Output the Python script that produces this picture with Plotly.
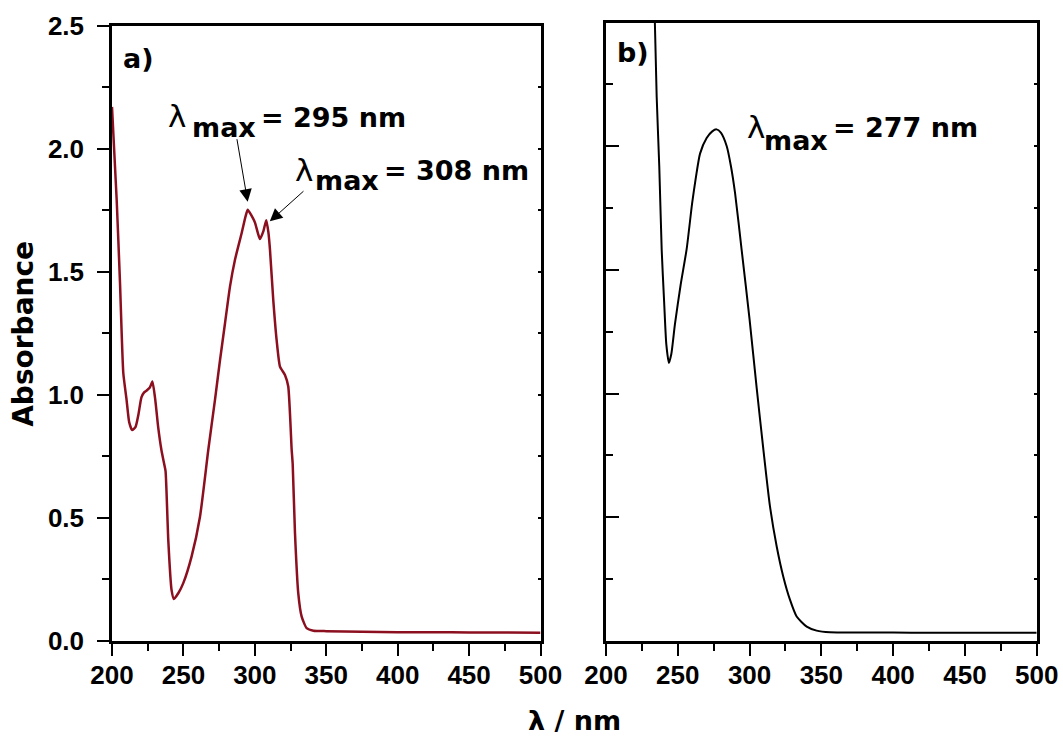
import plotly.graph_objects as go

# UV-Vis absorption spectra
wavelength_a = [200, 203.3, 205.6, 207.9, 210.2, 212, 214.1, 216.5, 218.5, 220.6, 222.5, 224.1,
                226.5, 228.3, 230.3, 232.3, 234.6, 236.5, 237.5, 239.4, 241.7, 243.3, 246.5,
                249.9, 255.7, 261.6, 267.4, 272.1, 275.6, 279.1, 282.6, 286.1, 290.8, 293.5,
                295, 297.5, 300.1, 302, 303.6, 306, 308, 309.5, 310.6, 312.9, 315.3, 317.6,
                321.1, 323.4, 325.8, 326.5, 328.1, 330.4, 332.8, 336.3, 341, 350, 375, 400,
                425, 450, 475, 500]
absorbance_a = [2.17, 1.79, 1.455, 1.09, 0.98, 0.89, 0.857, 0.87, 0.92, 0.99, 1.01, 1.017,
                1.03, 1.054, 0.98, 0.87, 0.776, 0.72, 0.69, 0.41, 0.207, 0.171, 0.195,
                0.235, 0.343, 0.505, 0.776, 0.98, 1.14, 1.29, 1.44, 1.549, 1.658, 1.725,
                1.752, 1.73, 1.70, 1.66, 1.633, 1.665, 1.71, 1.66, 1.59, 1.386, 1.22, 1.115,
                1.081, 1.034, 0.776, 0.72, 0.44, 0.195, 0.099, 0.052, 0.042, 0.040, 0.038, 0.036,
                0.036, 0.035, 0.035, 0.034]

wavelength_b = [225, 230, 233, 235.3, 237.1, 238.8, 240.5, 242, 243.8, 245.5, 248, 252, 256.2,
                260, 262.5, 265.5, 270.1, 274, 277, 280, 284.1, 287, 289.9, 294.5, 300, 305,
                309.6, 314.2, 318.9, 323.5, 328.2, 332.8, 339.8, 346.7, 356, 375, 400, 425,
                450, 475, 500]
absorbance_b = [3.6, 3.3, 2.75, 2.2, 1.92, 1.58, 1.37, 1.2, 1.124, 1.16, 1.28, 1.44, 1.585,
                1.77, 1.87, 1.97, 2.033, 2.06, 2.068, 2.055, 2.0, 1.92, 1.81, 1.58, 1.30, 1.02,
                0.775, 0.545, 0.382, 0.26, 0.166, 0.099, 0.058, 0.042, 0.035, 0.034, 0.034, 0.033,
                0.033, 0.033, 0.033]

x_ticks = [200, 250, 300, 350, 400, 450, 500]
y_ticks = [0.0, 0.5, 1.0, 1.5, 2.0, 2.5]

TICK_FONT = dict(family="Liberation Sans, Arial", size=26, color="black", weight="bold")
LABEL_FONT = dict(family="DejaVu Sans", size=27, color="black", weight="bold")
LAMBDA_FONT = dict(family="DejaVu Sans", size=31, color="black")

fig = go.Figure()
fig.add_trace(go.Scatter(x=wavelength_a, y=absorbance_a, mode="lines",
                         line=dict(color="#8b0f1f", width=2.5, shape="spline", smoothing=0.5),
                         xaxis="x", yaxis="y", showlegend=False))
fig.add_trace(go.Scatter(x=wavelength_b, y=absorbance_b, mode="lines",
                         line=dict(color="black", width=2, shape="spline", smoothing=0.6),
                         xaxis="x2", yaxis="y2", showlegend=False))
# empty traces that carry the right-hand tick axes
fig.add_trace(go.Scatter(x=[], y=[], xaxis="x", yaxis="y3", showlegend=False))
fig.add_trace(go.Scatter(x=[], y=[], xaxis="x2", yaxis="y4", showlegend=False))

x_common = dict(range=[200, 500], tickvals=x_ticks, ticks="outside", ticklen=12, tickwidth=2,
                tickcolor="black", showline=True, linewidth=2.5, linecolor="black", mirror=True,
                showgrid=False, zeroline=False, tickfont=TICK_FONT, ticklabelstandoff=-3,
                automargin=False,
                minor=dict(dtick=25, tick0=200, ticks="outside", ticklen=7, tickwidth=2,
                           tickcolor="black", showgrid=False))
ax_dom = 1 - 641 / 738

fig.update_layout(
    width=1063, height=738,
    margin=dict(l=0, r=0, t=0, b=0),
    paper_bgcolor="white", plot_bgcolor="white",
    xaxis=dict(domain=[112 / 1063, 540.5 / 1063], anchor="y", **x_common),
    xaxis2=dict(domain=[606 / 1063, 1036.7 / 1063], anchor="y2", **x_common),
    yaxis=dict(domain=[ax_dom, 1 - 25.7 / 738], anchor="x", range=[0, 2.5], tickvals=y_ticks,
               tickformat=".1f", ticks="outside", ticklen=12, tickwidth=2, tickcolor="black",
               showline=True, linewidth=2.5, linecolor="black", mirror=True, showgrid=False,
               zeroline=False, tickfont=TICK_FONT, ticklabelstandoff=8, automargin=False,
               minor=dict(dtick=0.25, tick0=0, ticks="outside", ticklen=7, tickwidth=2,
                          tickcolor="black", showgrid=False)),
    yaxis2=dict(domain=[ax_dom, 1 - 22.5 / 738], anchor="x2", range=[0, 2.5], tickvals=y_ticks,
                ticks="inside", ticklen=13, tickwidth=2, tickcolor="black", showticklabels=False,
                showline=True, linewidth=2.5, linecolor="black", mirror=True, showgrid=False,
                zeroline=False, automargin=False,
                minor=dict(dtick=0.25, tick0=0, ticks="inside", ticklen=7, tickwidth=2,
                           tickcolor="black", showgrid=False)),
    yaxis3=dict(overlaying="y", side="right", anchor="x", range=[0, 2.5], dtick=0.25,
                ticks="inside", ticklen=3, tickwidth=1.5, tickcolor="black", automargin=False,
                showticklabels=False, showline=False, showgrid=False, zeroline=False),
    yaxis4=dict(overlaying="y2", side="right", anchor="x2", range=[0, 2.5], dtick=0.25,
                ticks="inside", ticklen=3, tickwidth=1.5, tickcolor="black", automargin=False,
                showticklabels=False, showline=False, showgrid=False, zeroline=False),
)

ann = []


def label(text, x, y, xref, yref, font):
    ann.append(dict(text=text, x=x, y=y, xref=xref, yref=yref, xanchor="left",
                    yanchor="middle", showarrow=False, font=font))


# panel letters
label("a)", 206.5, 2.366, "x", "y", LABEL_FONT)
label("b)", 206.0, 2.379, "x2", "y2", LABEL_FONT)

# peak labels, panel a
label("λ", 238.0, 2.134, "x", "y", LAMBDA_FONT)
label("max", 254.5, 2.087, "x", "y", LABEL_FONT)
label("= 295 nm", 302.8, 2.127, "x", "y", LABEL_FONT)
label("λ", 327.0, 1.912, "x", "y", LAMBDA_FONT)
label("max", 340.5, 1.871, "x", "y", LABEL_FONT)
label("= 308 nm", 388.8, 1.912, "x", "y", LABEL_FONT)

# peak label, panel b
label("λ", 297.0, 2.079, "x2", "y2", LAMBDA_FONT)
label("max", 308.5, 2.022, "x2", "y2", LABEL_FONT)
label("= 277 nm", 357.0, 2.075, "x2", "y2", LABEL_FONT)

# arrows pointing at the two maxima in panel a
for head, tail in [((295, 1.785), (287.3, 2.045)), ((310.5, 1.705), (335.1, 1.833))]:
    ann.append(dict(text="", x=head[0], y=head[1], ax=tail[0], ay=tail[1], xref="x", yref="y",
                    axref="x", ayref="y", showarrow=True, arrowhead=2, arrowsize=2.5,
                    arrowwidth=1, arrowcolor="black", standoff=0))

# axis titles
ann.append(dict(text="Absorbance", x=23.3 / 1063, y=1 - 333.5 / 738, xref="paper", yref="paper",
                textangle=-90, showarrow=False, xanchor="center", yanchor="middle",
                font=dict(family="DejaVu Sans", size=28, color="black", weight="bold")))
ann.append(dict(text="λ / nm", x=574 / 1063, y=1 - 720 / 738, xref="paper", yref="paper",
                showarrow=False, xanchor="center", yanchor="middle",
                font=dict(family="DejaVu Sans", size=27, color="black", weight="bold")))

fig.update_layout(annotations=ann)
fig.write_html("out.html")
